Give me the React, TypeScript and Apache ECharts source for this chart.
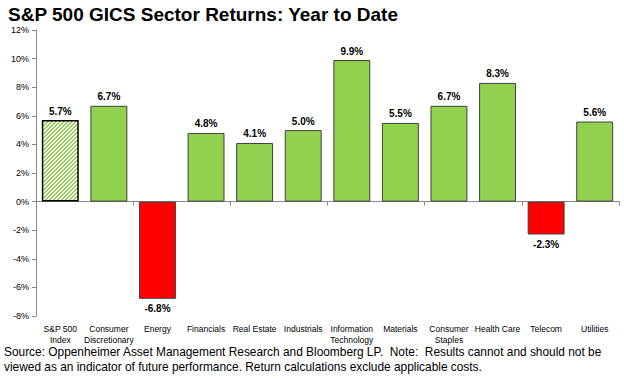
import React, { useEffect, useRef } from "react";
import * as echarts from "echarts";

const categories = [
  "S&P 500\nIndex",
  "Consumer\nDiscretionary",
  "Energy",
  "Financials",
  "Real Estate",
  "Industrials",
  "Information\nTechnology",
  "Materials",
  "Consumer\nStaples",
  "Health Care",
  "Telecom",
  "Utilities",
];
const returns = [5.7, 6.7, -6.8, 4.8, 4.1, 5.0, 9.9, 5.5, 6.7, 8.3, -2.3, 5.6];
const yTicks = { min: -8, max: 12, interval: 2 };
const titleText = "S&P 500 GICS Sector Returns: Year to Date";
const sourceLines = [
  "Source: Oppenheimer Asset Management Research and Bloomberg LP.  Note:  Results cannot and should not be",
  "viewed as an indicator of future performance. Return calculations exclude applicable costs.",
];

const GREEN = "#92D050";
const RED = "#FF0000";
const FONT = "Liberation Sans, Arial, sans-serif";

function makeHatch(): HTMLCanvasElement {
  const c = document.createElement("canvas");
  c.width = 4;
  c.height = 4;
  const ctx = c.getContext("2d")!;
  ctx.fillStyle = "#ffffff";
  ctx.fillRect(0, 0, 4, 4);
  ctx.fillStyle = GREEN;
  for (let x = 0; x < 4; x++) {
    for (let y = 0; y < 4; y++) {
      if ((x + y) % 4 < 2) ctx.fillRect(x, y, 1, 1);
    }
  }
  return c;
}

export default function App() {
  const ref = useRef<HTMLDivElement>(null);
  useEffect(() => {
    if (!ref.current) return;
    const chart = echarts.init(ref.current, null, { renderer: "svg" });
    const hatch = makeHatch();
    const data = returns.map((v, i) => {
      const base: any = { value: v };
      if (i === 0) {
        base.itemStyle = {
          color: { image: hatch, repeat: "repeat" },
          borderColor: "#000000",
          borderWidth: 1.5,
        };
      } else {
        base.itemStyle = {
          color: v < 0 ? RED : GREEN,
          borderColor: "#404040",
          borderWidth: 1,
        };
      }
      if (v < 0) base.label = { position: "bottom", distance: 5 };
      return base;
    });
    chart.setOption({
      animation: false,
      textStyle: { fontFamily: FONT },
      title: {
        text: titleText,
        left: 3,
        top: 0,
        textStyle: {
          fontFamily: FONT,
          fontSize: 19,
          fontWeight: "bold",
          color: "#000",
        },
      },
      graphic: sourceLines.map((t, i) => ({
        type: "text",
        left: 4,
        top: 346 + i * 15,
        style: {
          text: t,
          fontFamily: FONT,
          fontSize: 11.9,
          fill: "#000",
        },
      })),
      grid: { left: 36, right: 5, top: 30, bottom: 63, containLabel: false },
      xAxis: [
        {
          type: "category",
          data: categories,
          axisLine: { onZero: true, lineStyle: { color: "#888", width: 1 } },
          axisTick: { show: true, length: 4, lineStyle: { color: "#888" } },
          axisLabel: { show: false },
        },
        {
          type: "category",
          data: categories,
          position: "bottom",
          axisLine: { show: false, onZero: false },
          axisTick: { show: false },
          axisLabel: {
            show: true,
            interval: 0,
            fontSize: 8.5,
            color: "#000",
            margin: 7,
            lineHeight: 11,
          },
        },
      ],
      yAxis: {
        type: "value",
        min: yTicks.min,
        max: yTicks.max,
        interval: yTicks.interval,
        axisLine: { show: true, lineStyle: { color: "#888" } },
        axisTick: { show: true, length: 4, lineStyle: { color: "#888" } },
        splitLine: { show: false },
        axisLabel: {
          formatter: "{value}%",
          fontSize: 9,
          color: "#000",
          margin: 7,
        },
      },
      series: [
        {
          type: "bar",
          data,
          barWidth: "76%",
          xAxisIndex: 0,
          label: {
            show: true,
            position: "top",
            formatter: (p: any) => `${p.value.toFixed(1)}%`,
            fontSize: 10,
            fontWeight: "bold",
            color: "#000",
            distance: 4,
          },
        },
      ],
    });
    return () => chart.dispose();
  }, []);
  return (
    <div
      ref={ref}
      style={{ position: "absolute", left: 0, top: 0, width: 624, height: 379 }}
    />
  );
}
